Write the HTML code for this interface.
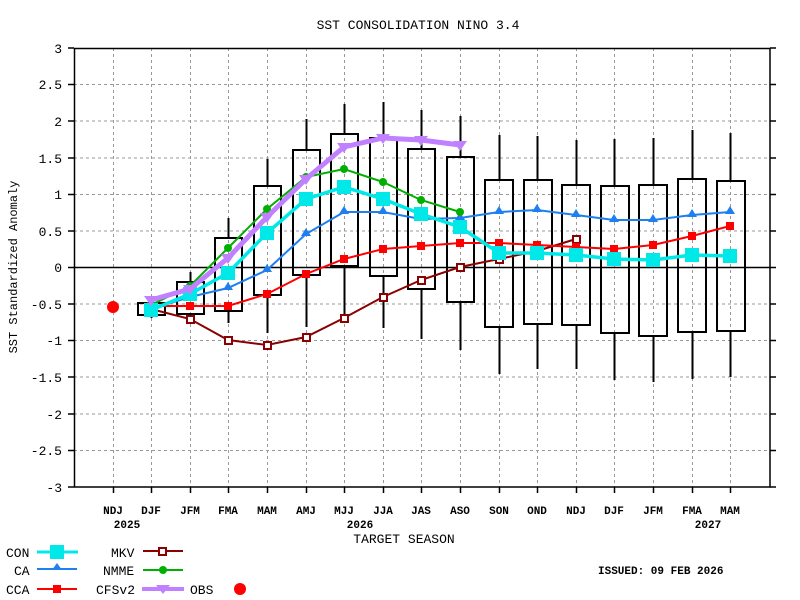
<!DOCTYPE html>
<html><head><meta charset="utf-8"><style>
body{margin:0;background:#fff}
svg{display:block;font-family:"Liberation Mono","DejaVu Sans Mono",monospace}
</style></head><body>
<svg width="800" height="600" viewBox="0 0 800 600" xmlns="http://www.w3.org/2000/svg">
<rect width="800" height="600" fill="#fff"/>
<text x="418" y="29" font-size="13" text-anchor="middle">SST CONSOLIDATION NINO 3.4</text>
<g stroke="#999" stroke-width="1" stroke-dasharray="3,3">
<line x1="74" x2="770" y1="84.5" y2="84.5"/><line x1="74" x2="770" y1="121" y2="121"/><line x1="74" x2="770" y1="158" y2="158"/><line x1="74" x2="770" y1="194.5" y2="194.5"/><line x1="74" x2="770" y1="231" y2="231"/><line x1="74" x2="770" y1="304" y2="304"/><line x1="74" x2="770" y1="340.5" y2="340.5"/><line x1="74" x2="770" y1="377" y2="377"/><line x1="74" x2="770" y1="414" y2="414"/><line x1="74" x2="770" y1="450.5" y2="450.5"/>
<line y1="48" y2="487" x1="113.5" x2="113.5"/><line y1="48" y2="487" x1="151.5" x2="151.5"/><line y1="48" y2="487" x1="190.5" x2="190.5"/><line y1="48" y2="487" x1="228.5" x2="228.5"/><line y1="48" y2="487" x1="267.5" x2="267.5"/><line y1="48" y2="487" x1="306.5" x2="306.5"/><line y1="48" y2="487" x1="344.5" x2="344.5"/><line y1="48" y2="487" x1="383.5" x2="383.5"/><line y1="48" y2="487" x1="421.5" x2="421.5"/><line y1="48" y2="487" x1="460.5" x2="460.5"/><line y1="48" y2="487" x1="499.5" x2="499.5"/><line y1="48" y2="487" x1="537.5" x2="537.5"/><line y1="48" y2="487" x1="576.5" x2="576.5"/><line y1="48" y2="487" x1="614.5" x2="614.5"/><line y1="48" y2="487" x1="653.5" x2="653.5"/><line y1="48" y2="487" x1="692.5" x2="692.5"/><line y1="48" y2="487" x1="730.5" x2="730.5"/>
</g>
<rect x="74.5" y="48.5" width="695.5" height="438.5" fill="none" stroke="#000" stroke-width="1.5"/>
<line x1="74" x2="770" y1="267.5" y2="267.5" stroke="#000" stroke-width="1.5"/>
<g stroke="#000" stroke-width="1.5">
<path d="M68 48H74M68 84.5H74M68 121H74M68 158H74M68 194.5H74M68 231H74M68 267.5H74M68 304H74M68 340.5H74M68 377H74M68 414H74M68 450.5H74M68 487H74"/>
<path d="M770 48H776M770 84.5H776M770 121H776M770 158H776M770 194.5H776M770 231H776M770 267.5H776M770 304H776M770 340.5H776M770 377H776M770 414H776M770 450.5H776M770 487H776"/>
<path d="M113.5 487V493M151.5 487V493M190.5 487V493M228.5 487V493M267.5 487V493M306.5 487V493M344.5 487V493M383.5 487V493M421.5 487V493M460.5 487V493M499.5 487V493M537.5 487V493M576.5 487V493M614.5 487V493M653.5 487V493M692.5 487V493M730.5 487V493"/>
</g>
<g font-size="13" text-anchor="end">
<text x="62" y="53">3</text><text x="62" y="89">2.5</text><text x="62" y="126">2</text><text x="62" y="163">1.5</text><text x="62" y="199">1</text><text x="62" y="236">0.5</text><text x="62" y="272">0</text><text x="62" y="309">-0.5</text><text x="62" y="345">-1</text><text x="62" y="382">-1.5</text><text x="62" y="419">-2</text><text x="62" y="455">-2.5</text><text x="62" y="492">-3</text>
</g>
<text transform="translate(17,267) rotate(-90)" font-size="12" text-anchor="middle">SST Standardized Anomaly</text>
<g font-size="11" font-weight="bold" text-anchor="middle">
<text x="113" y="514">NDJ</text><text x="151" y="514">DJF</text><text x="190" y="514">JFM</text><text x="228" y="514">FMA</text><text x="267" y="514">MAM</text><text x="306" y="514">AMJ</text><text x="344" y="514">MJJ</text><text x="383" y="514">JJA</text><text x="421" y="514">JAS</text><text x="460" y="514">ASO</text><text x="499" y="514">SON</text><text x="537" y="514">OND</text><text x="576" y="514">NDJ</text><text x="614" y="514">DJF</text><text x="653" y="514">JFM</text><text x="692" y="514">FMA</text><text x="730" y="514">MAM</text>
<text x="127" y="528">2025</text><text x="360" y="528">2026</text><text x="708" y="528">2027</text>
</g>
<text x="404" y="543" font-size="13" text-anchor="middle">TARGET SEASON</text>
<!-- boxes -->
<g stroke="#000" stroke-width="2" fill="none">
<path d="M151.5 303V299M151.5 315V318"/><rect x="138" y="303" width="27" height="12"/>
<path d="M190.5 282V272M190.5 314V320"/><rect x="177" y="282" width="27" height="32"/>
<path d="M228.5 238V218M228.5 311V323"/><rect x="215" y="238" width="27" height="73"/>
<path d="M267.5 186V159M267.5 295V333"/><rect x="254" y="186" width="27" height="109"/>
<path d="M306.5 150V119M306.5 275V327"/><rect x="293" y="150" width="27" height="125"/>
<path d="M344.5 134V104M344.5 266V320"/><rect x="331" y="134" width="27" height="132"/>
<path d="M383.5 138V102M383.5 276V328"/><rect x="370" y="138" width="27" height="138"/>
<path d="M421.5 149V110M421.5 289V339"/><rect x="408" y="149" width="27" height="140"/>
<path d="M460.5 157V116M460.5 302V350"/><rect x="447" y="157" width="27" height="145"/>
<path d="M499.5 180V135M499.5 327V374"/><rect x="485" y="180" width="28" height="147"/>
<path d="M537.5 180V136M537.5 324V369"/><rect x="524" y="180" width="28" height="144"/>
<path d="M576.5 185V140M576.5 325V369"/><rect x="562" y="185" width="28" height="140"/>
<path d="M614.5 186V139M614.5 333V380"/><rect x="601" y="186" width="28" height="147"/>
<path d="M653.5 185V138M653.5 336V382"/><rect x="639" y="185" width="28" height="151"/>
<path d="M692.5 179V130M692.5 332V379"/><rect x="678" y="179" width="28" height="153"/>
<path d="M730.5 181V133M730.5 331V377"/><rect x="717" y="181" width="28" height="150"/>
</g>
<!-- MKV -->
<polyline fill="none" stroke="#8b0000" stroke-width="2" points="151,309 190,319 228,340 267,345 306,337 344,318 383,297 421,280 460,267 499,259 537,251 576,239"/>
<g fill="#fff" stroke="#8b0000" stroke-width="2">
<rect x="187" y="316" width="7" height="7"/><rect x="225" y="337" width="7" height="7"/><rect x="264" y="342" width="7" height="7"/><rect x="303" y="334" width="7" height="7"/><rect x="341" y="315" width="7" height="7"/><rect x="380" y="294" width="7" height="7"/><rect x="418" y="277" width="7" height="7"/><rect x="457" y="264" width="7" height="7"/><rect x="496" y="256" width="7" height="7"/><rect x="534" y="248" width="7" height="7"/><rect x="573" y="236" width="7" height="7"/>
</g>
<!-- CCA -->
<polyline fill="none" stroke="#f00" stroke-width="2" points="151,306 190,306 228,306 267,294 306,274 344,259 383,249 421,246 460,243 499,243 537,245 576,247 614,249 653,245 692,236 730,226"/>
<g fill="#f00">
<rect x="147" y="302" width="8" height="8"/><rect x="186" y="302" width="8" height="8"/><rect x="224" y="302" width="8" height="8"/><rect x="263" y="290" width="8" height="8"/><rect x="302" y="270" width="8" height="8"/><rect x="340" y="255" width="8" height="8"/><rect x="379" y="245" width="8" height="8"/><rect x="417" y="242" width="8" height="8"/><rect x="456" y="239" width="8" height="8"/><rect x="495" y="239" width="8" height="8"/><rect x="533" y="241" width="8" height="8"/><rect x="572" y="243" width="8" height="8"/><rect x="610" y="245" width="8" height="8"/><rect x="649" y="241" width="8" height="8"/><rect x="688" y="232" width="8" height="8"/><rect x="726" y="222" width="8" height="8"/>
</g>
<!-- CA -->
<polyline fill="none" stroke="#1e7ff0" stroke-width="2" points="151,309 190,297 228,288 267,270 306,234 344,212 383,212 421,219 460,218 499,212 537,210 576,215 614,220 653,220 692,215 730,212"/>
<g fill="#1e7ff0">
<path d="M190 291l5 8h-10z M228 282l5 8h-10z M267 264l5 8h-10z M306 228l5 8h-10z M344 206l5 8h-10z M383 206l5 8h-10z M421 213l5 8h-10z M460 212l5 8h-10z M499 206l5 8h-10z M537 204l5 8h-10z M576 209l5 8h-10z M614 214l5 8h-10z M653 214l5 8h-10z M692 209l5 8h-10z M730 206l5 8h-10z"/>
</g>
<!-- NMME -->
<polyline fill="none" stroke="#00b000" stroke-width="2" points="151,305 190,286 228,248 267,209 306,177 344,169 383,182 421,200 460,212"/>
<g fill="#00b000"><circle cx="190" cy="286" r="4"/><circle cx="228" cy="248" r="4"/><circle cx="267" cy="209" r="4"/><circle cx="306" cy="177" r="4"/><circle cx="344" cy="169" r="4"/><circle cx="383" cy="182" r="4"/><circle cx="421" cy="200" r="4"/><circle cx="460" cy="212" r="4"/></g>
<!-- CON -->
<polyline fill="none" stroke="#00e8e8" stroke-width="3.5" points="151,310 190,294 228,273 267,233 306,199 344,187 383,199 421,214 460,227 499,253 537,253 576,255 614,259 653,260 692,255 730,256"/>
<g fill="#00e8e8">
<rect x="144" y="303" width="14" height="14"/><rect x="183" y="287" width="14" height="14"/><rect x="221" y="266" width="14" height="14"/><rect x="260" y="226" width="14" height="14"/><rect x="299" y="192" width="14" height="14"/><rect x="337" y="180" width="14" height="14"/><rect x="376" y="192" width="14" height="14"/><rect x="414" y="207" width="14" height="14"/><rect x="453" y="220" width="14" height="14"/><rect x="492" y="246" width="14" height="14"/><rect x="530" y="246" width="14" height="14"/><rect x="569" y="248" width="14" height="14"/><rect x="607" y="252" width="14" height="14"/><rect x="646" y="253" width="14" height="14"/><rect x="685" y="248" width="14" height="14"/><rect x="723" y="249" width="14" height="14"/>
</g>
<!-- CFSv2 -->
<polyline fill="none" stroke="#c080ff" stroke-width="5" points="151,300 190,289 228,258 267,217 306,179 344,147 383,138 421,140 460,145"/>
<g fill="#c080ff"><path d="M144 296h14l-7 10z M183 285h14l-7 10z M221 254h14l-7 10z M260 213h14l-7 10z M299 175h14l-7 10z M337 143h14l-7 10z M376 134h14l-7 10z M414 136h14l-7 10z M453 141h14l-7 10z"/></g>
<circle cx="113" cy="307" r="6" fill="#f00"/>
<!-- legend -->
<g font-size="13">
<text x="6" y="557">CON</text><text x="14" y="575">CA</text><text x="6" y="594">CCA</text>
<text x="111" y="557">MKV</text><text x="103" y="575">NMME</text><text x="96" y="594">CFSv2</text><text x="190" y="594">OBS</text>
</g>
<line x1="37" x2="78" y1="552" y2="552" stroke="#00e8e8" stroke-width="3"/><rect x="50" y="545" width="14" height="14" fill="#00e8e8"/>
<line x1="37" x2="77" y1="569" y2="569" stroke="#1e7ff0" stroke-width="2"/><path d="M57 563l5 7h-10z" fill="#1e7ff0"/>
<line x1="37" x2="77" y1="589" y2="589" stroke="#f00" stroke-width="2"/><rect x="53" y="585" width="8" height="8" fill="#f00"/>
<line x1="143" x2="183" y1="551" y2="551" stroke="#8b0000" stroke-width="2"/><rect x="159" y="548" width="7" height="7" fill="#fff" stroke="#8b0000" stroke-width="2"/>
<line x1="143" x2="183" y1="570" y2="570" stroke="#00b000" stroke-width="2"/><circle cx="163" cy="570" r="4" fill="#00b000"/>
<line x1="142" x2="184" y1="589" y2="589" stroke="#c080ff" stroke-width="4"/><path d="M156 585h14l-7 9z" fill="#c080ff"/>
<circle cx="240" cy="589" r="6" fill="#f00"/>
<text x="598" y="574" font-size="11" font-weight="bold">ISSUED: 09 FEB 2026</text>
</svg>
</body></html>
